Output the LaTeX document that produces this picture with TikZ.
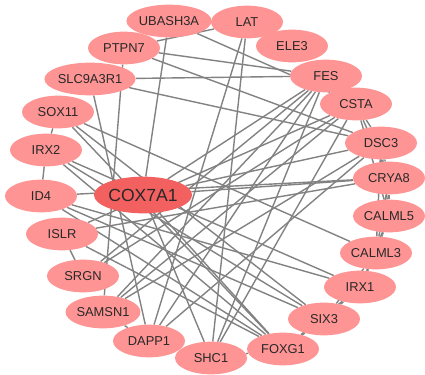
\documentclass[tikz,border=0pt]{standalone}
\usepackage{fontspec}
\setmainfont{Liberation Sans}
\usetikzlibrary{shapes.geometric,backgrounds}
\definecolor{genepink}{RGB}{255,148,148}
\definecolor{hubred}{RGB}{242,96,96}
\definecolor{linkgray}{RGB}{130,130,130}
\definecolor{labeltext}{RGB}{40,40,40}
\tikzset{
  genenode/.style={ellipse, draw=none, fill=genepink, inner sep=0pt, minimum width=2.16cm, minimum height=0.98cm, text=labeltext, font=\fontsize{11}{13}\selectfont},
  hubnode/.style={genenode, fill=hubred, minimum width=2.6cm, minimum height=1.1cm, font=\fontsize{15}{18}\selectfont},
  linkline/.style={draw=linkgray, line width=1.2pt}
}

\begin{document}
\begin{tikzpicture}[x=0.03cm, y=-0.03cm]
  \useasboundingbox (0,0) rectangle (425,375);
  % outer ring
  \node[genenode] (ubash) at (169,21) {UBASH3A};
  \node[genenode] (lat) at (247,22) {LAT};
  \node[genenode] (ptpn) at (124,48) {PTPN7};
  \node[genenode] (ele) at (292,46) {ELE3};
  \node[genenode] (slc) at (90,79) {SLC9A3R1};
  \node[genenode] (fes) at (326,76) {FES};
  \node[genenode] (sox) at (58,112) {SOX11};
  \node[genenode] (csta) at (356,104) {CSTA};
  \node[genenode] (irxb) at (46,150) {IRX2};
  \node[genenode] (dsc) at (381,143) {DSC3};
  \node[genenode] (idf) at (41,196) {ID4};
  \node[genenode] (crya) at (389,178) {CRYA8};
  \node[genenode] (islr) at (62,234) {ISLR};
  \node[genenode] (calmf) at (389,216) {CALML5};
  \node[genenode] (srgn) at (83,276) {SRGN};
  \node[genenode] (calmt) at (376,253) {CALML3};
  \node[genenode] (irxa) at (360,287) {IRX1};
  \node[genenode] (samsn) at (103,312) {SAMSN1};
  \node[genenode] (six) at (324,319) {SIX3};
  \node[genenode] (dapp) at (149,341) {DAPP1};
  \node[genenode] (foxg) at (283,349) {FOXG1};
  \node[genenode] (shc) at (211,358) {SHC1};
  % hub
  \node[hubnode] (cox) at (143,195) {COX7A1};

  \begin{pgfonlayer}{background}
    \foreach \a/\b in {csta/dsc, csta/crya, csta/calmf, dsc/crya, dsc/calmf, dsc/calmt,
        crya/calmf, crya/calmt, calmf/calmt, calmf/irxa, calmt/irxa, calmt/six,
        irxa/six, irxa/foxg, six/foxg, foxg/shc,
        sox/irxb, irxb/idf, islr/srgn, samsn/dapp,
        ptpn/lat, ubash/csta, ptpn/fes, slc/fes, ptpn/dsc, slc/dsc,
        ubash/cox, ptpn/samsn, slc/dapp, lat/dapp, lat/shc,
        fes/cox, fes/srgn, fes/dapp, fes/shc, fes/samsn,
        csta/shc, csta/islr, csta/samsn, csta/srgn,
        dsc/samsn, dsc/dapp, dsc/cox,
        cox/crya, idf/crya, islr/crya,
        sox/calmt, sox/six, sox/foxg, irxb/irxa, irxb/six, irxb/foxg,
        idf/irxa, idf/six, idf/foxg, islr/foxg, cox/shc, cox/foxg}
      \draw[linkline] (\a) -- (\b);
  \end{pgfonlayer}
\end{tikzpicture}
\end{document}
